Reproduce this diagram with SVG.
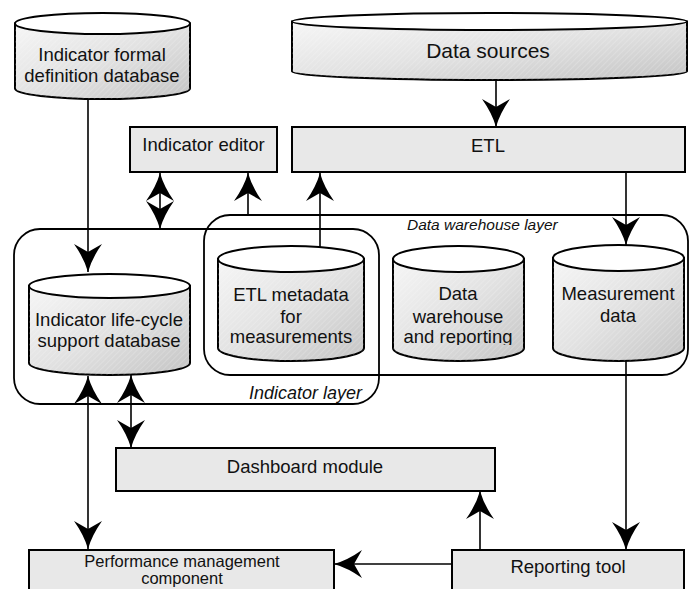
<svg xmlns="http://www.w3.org/2000/svg" width="689" height="589" viewBox="0 0 689 589">
<defs>
<linearGradient id="cyl" x1="0" y1="0" x2="1" y2="1">
<stop offset="0" stop-color="#f6f6f6"/>
<stop offset="0.5" stop-color="#e2e2e2"/>
<stop offset="1" stop-color="#c4c4c4"/>
</linearGradient>
<pattern id="hatch" width="4" height="4" patternUnits="userSpaceOnUse" patternTransform="rotate(45)">
<line x1="0" y1="0" x2="0" y2="4" stroke="#ffffff" stroke-opacity="0.35" stroke-width="1"/>
</pattern>
<marker id="ah" markerUnits="userSpaceOnUse" viewBox="-30 -15 31 30" refX="0" refY="0" markerWidth="31" markerHeight="30" orient="auto-start-reverse">
<path d="M0,0 Q-14,-4 -28,-14 L-20,0 L-28,14 Q-14,4 0,0 Z" fill="#000"/>
</marker>
<clipPath id="dwclip"><rect x="380" y="240" width="160" height="105"/></clipPath>
<style>
.box{fill:#e8e8e8;stroke:#000;stroke-width:2}
.body{fill:url(#cyl);stroke:#000;stroke-width:2}
.hat{fill:url(#hatch);stroke:none}
.top{fill:#fff;stroke:#000;stroke-width:2}
.layer{fill:none;stroke:#000;stroke-width:1.8}
.t{font-family:"Liberation Sans",Arial,sans-serif;font-size:18.5px;fill:#111;text-anchor:middle}
.big{font-size:21px}
.sm{font-size:16.5px}
.lbl{font-family:"Liberation Sans",Arial,sans-serif;font-style:italic;fill:#111}
.c{fill:none;stroke:#000;stroke-width:1.6}
.a{marker-end:url(#ah)}
.aa{marker-start:url(#ah);marker-end:url(#ah)}
</style>
</defs>
<rect width="689" height="589" fill="#fff"/>

<g id="layers">
<g id="data-warehouse-layer">
<rect class="layer" x="204" y="215" width="484" height="160" rx="26"/>
<text class="lbl" x="407" y="230" font-size="15.5">Data warehouse layer</text>
</g>
<g id="indicator-layer">
<rect class="layer" x="14" y="229" width="365" height="175" rx="26"/>
<text class="lbl" x="362" y="399" font-size="18" text-anchor="end">Indicator layer</text>
</g>
</g>

<g id="connectors">
<line class="c a" x1="88" y1="99" x2="88" y2="272"/>
<line class="c a" x1="496" y1="80" x2="496" y2="127"/>
<line class="c aa" x1="160" y1="173" x2="160" y2="229"/>
<line class="c a" x1="248" y1="215" x2="248" y2="173"/>
<line class="c a" x1="320" y1="247" x2="320" y2="173"/>
<line class="c a" x1="626" y1="172" x2="626" y2="245"/>
<line class="c a" x1="626" y1="361" x2="626" y2="550"/>
<line class="c aa" x1="88" y1="376" x2="88" y2="549"/>
<line class="c aa" x1="131" y1="375" x2="131" y2="448"/>
<line class="c a" x1="480" y1="550" x2="480" y2="491"/>
<line class="c a" x1="452" y1="564" x2="334" y2="564"/>
</g>

<g id="indicator-formal-definition-database">
<path class="body" d="M15,23.5 L15,88.5 A87.5,10.5 0 0 0 190,88.5 L190,23.5 Z"/>
<path class="hat" d="M15,23.5 L15,88.5 A87.5,10.5 0 0 0 190,88.5 L190,23.5 Z"/>
<ellipse class="top" cx="102.5" cy="23.5" rx="87.5" ry="10.5"/>
<text class="t" x="102" y="61">Indicator formal</text>
<text class="t" x="102" y="82">definition database</text>
</g>

<g id="data-sources">
<path class="body" d="M292,21.5 L292,71.5 A197.5,8.5 0 0 0 687,71.5 L687,21.5 Z"/>
<path class="hat" d="M292,21.5 L292,71.5 A197.5,8.5 0 0 0 687,71.5 L687,21.5 Z"/>
<ellipse class="top" cx="489.5" cy="21.5" rx="197.5" ry="8.5"/>
<text class="t big" x="488" y="58">Data sources</text>
</g>

<g id="indicator-editor">
<rect class="box" x="130" y="127" width="147" height="45"/>
<text class="t" x="203.5" y="151">Indicator editor</text>
</g>

<g id="etl">
<rect class="box" x="292" y="127" width="393" height="45"/>
<text class="t" x="488" y="152">ETL</text>
</g>

<g id="indicator-life-cycle-support-database">
<path class="body" d="M29,286 L29,363 A80.5,12 0 0 0 190,363 L190,286 Z"/>
<path class="hat" d="M29,286 L29,363 A80.5,12 0 0 0 190,363 L190,286 Z"/>
<ellipse class="top" cx="109.5" cy="286" rx="80.5" ry="12"/>
<text class="t" x="109" y="326">Indicator life-cycle</text>
<text class="t" x="109" y="347">support database</text>
</g>

<g id="etl-metadata-for-measurements">
<path class="body" d="M218,259 L218,348 A73,13 0 0 0 364,348 L364,259 Z"/>
<path class="hat" d="M218,259 L218,348 A73,13 0 0 0 364,348 L364,259 Z"/>
<ellipse class="top" cx="291" cy="259" rx="73" ry="13"/>
<text class="t" x="291" y="301">ETL metadata</text>
<text class="t" x="291" y="323">for</text>
<text class="t" x="291" y="343">measurements</text>
</g>

<g id="data-warehouse-and-reporting">
<path class="body" d="M393,259 L393,348 A65.5,13 0 0 0 524,348 L524,259 Z"/>
<path class="hat" d="M393,259 L393,348 A65.5,13 0 0 0 524,348 L524,259 Z"/>
<ellipse class="top" cx="458.5" cy="259" rx="65.5" ry="13"/>
<g clip-path="url(#dwclip)">
<text class="t" x="458" y="300">Data</text>
<text class="t" x="458" y="323">warehouse</text>
<text class="t" x="458" y="343">and reporting</text>
</g>
</g>

<g id="measurement-data">
<path class="body" d="M553,258 L553,348 A65.5,13 0 0 0 684,348 L684,258 Z"/>
<path class="hat" d="M553,258 L553,348 A65.5,13 0 0 0 684,348 L684,258 Z"/>
<ellipse class="top" cx="618.5" cy="258" rx="65.5" ry="13"/>
<text class="t" x="618" y="300">Measurement</text>
<text class="t" x="618" y="322">data</text>
</g>

<g id="dashboard-module">
<rect class="box" x="116" y="448" width="379" height="43"/>
<text class="t" x="305" y="473">Dashboard module</text>
</g>

<g id="performance-management-component">
<rect class="box" x="29" y="550" width="305" height="60"/>
<text class="t sm" x="182" y="567">Performance management</text>
<text class="t sm" x="182" y="584">component</text>
</g>

<g id="reporting-tool">
<rect class="box" x="452" y="550" width="232" height="60"/>
<text class="t" x="568" y="573">Reporting tool</text>
</g>
</svg>
